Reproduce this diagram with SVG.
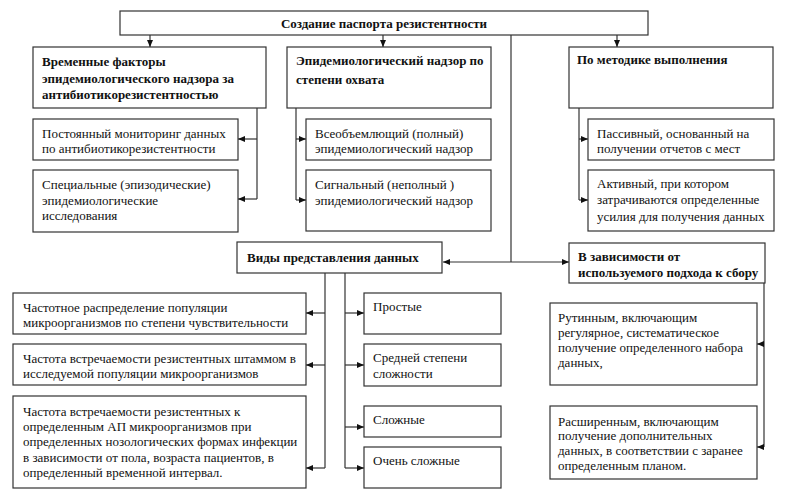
<svg xmlns="http://www.w3.org/2000/svg" width="785" height="495" viewBox="0 0 785 495">
<style>
.box{fill:#fff;stroke:#333;stroke-width:1.2}
.t{font-family:"Liberation Serif","Times New Roman",serif;font-size:13px;fill:#111}
.b{font-weight:bold}
.c{fill:none;stroke:#333;stroke-width:1.2}
</style>
<defs>
<marker id="ah" markerWidth="7" markerHeight="6" refX="7" refY="3" orient="auto" markerUnits="userSpaceOnUse">
<path d="M0,0 L7,3 L0,6 Z" fill="#111"/>
</marker>
</defs>
<rect width="785" height="495" fill="#fff"/>
<g id="connectors">
<line class="c" x1="150" y1="35" x2="150" y2="47" marker-end="url(#ah)"/>
<line class="c" x1="383" y1="35" x2="383" y2="47" marker-end="url(#ah)"/>
<line class="c" x1="617" y1="35" x2="617" y2="47" marker-end="url(#ah)"/>
<line class="c" x1="511" y1="35" x2="511" y2="262"/>
<line class="c" x1="511" y1="262" x2="443" y2="262" marker-end="url(#ah)"/>
<line class="c" x1="511" y1="262" x2="569" y2="262" marker-end="url(#ah)"/>
<line class="c" x1="257" y1="108" x2="257" y2="199"/>
<line class="c" x1="257" y1="139" x2="238" y2="139" marker-end="url(#ah)"/>
<line class="c" x1="257" y1="199" x2="238" y2="199" marker-end="url(#ah)"/>
<line class="c" x1="296" y1="108" x2="296" y2="200"/>
<line class="c" x1="296" y1="139" x2="306" y2="139" marker-end="url(#ah)"/>
<line class="c" x1="296" y1="200" x2="306" y2="200" marker-end="url(#ah)"/>
<line class="c" x1="579" y1="108" x2="579" y2="200"/>
<line class="c" x1="579" y1="139" x2="588" y2="139" marker-end="url(#ah)"/>
<line class="c" x1="579" y1="200" x2="588" y2="200" marker-end="url(#ah)"/>
<line class="c" x1="325" y1="273" x2="325" y2="468"/>
<line class="c" x1="325" y1="313" x2="306" y2="313" marker-end="url(#ah)"/>
<line class="c" x1="325" y1="365" x2="306" y2="365" marker-end="url(#ah)"/>
<line class="c" x1="325" y1="468" x2="306" y2="468" marker-end="url(#ah)"/>
<line class="c" x1="345" y1="273" x2="345" y2="468"/>
<line class="c" x1="345" y1="313" x2="364" y2="313" marker-end="url(#ah)"/>
<line class="c" x1="345" y1="365" x2="364" y2="365" marker-end="url(#ah)"/>
<line class="c" x1="345" y1="427" x2="364" y2="427" marker-end="url(#ah)"/>
<line class="c" x1="345" y1="468" x2="364" y2="468" marker-end="url(#ah)"/>
<line class="c" x1="764" y1="283" x2="764" y2="447"/>
<line class="c" x1="764" y1="344" x2="757" y2="344" marker-end="url(#ah)"/>
<line class="c" x1="764" y1="447" x2="757" y2="447" marker-end="url(#ah)"/>
</g>
<g id="root">
<rect class="box" x="120" y="11" width="528" height="24"/>
<text class="t b" x="384" y="28" text-anchor="middle">Создание паспорта резистентности</text>
</g>
<g id="temporal">
<rect class="box" x="33" y="47" width="233" height="61"/>
<text class="t b" x="42" y="66">Временные факторы</text>
<text class="t b" x="42" y="83">эпидемиологического надзора за</text>
<text class="t b" x="42" y="99">антибиотикорезистентностью</text>
</g>
<g id="coverage">
<rect class="box" x="287" y="47" width="204" height="61"/>
<text class="t b" x="296" y="65">Эпидемиологический надзор по</text>
<text class="t b" x="296" y="84">степени охвата</text>
</g>
<g id="method">
<rect class="box" x="569" y="47" width="204" height="61"/>
<text class="t b" x="577" y="64">По методике выполнения</text>
</g>
<g id="constant">
<rect class="box" x="33" y="119" width="205" height="41"/>
<text class="t" x="42" y="138">Постоянный мониторинг данных</text>
<text class="t" x="42" y="153">по антибиотикорезистентности</text>
</g>
<g id="special">
<rect class="box" x="33" y="170" width="205" height="62"/>
<text class="t" x="42" y="189">Специальные  (эпизодические)</text>
<text class="t" x="42" y="205">эпидемиологические</text>
<text class="t" x="42" y="220">исследования</text>
</g>
<g id="full">
<rect class="box" x="306" y="119" width="185" height="41"/>
<text class="t" x="315" y="138">Всеобъемлющий (полный)</text>
<text class="t" x="315" y="153">эпидемиологический надзор</text>
</g>
<g id="signal">
<rect class="box" x="306" y="170" width="185" height="61"/>
<text class="t" x="315" y="189">Сигнальный (неполный )</text>
<text class="t" x="315" y="205">эпидемиологический надзор</text>
</g>
<g id="passive">
<rect class="box" x="588" y="119" width="186" height="41"/>
<text class="t" x="597" y="138">Пассивный, основанный на</text>
<text class="t" x="597" y="153">получении отчетов с мест</text>
</g>
<g id="active">
<rect class="box" x="588" y="170" width="186" height="61"/>
<text class="t" x="597" y="188">Активный, при котором</text>
<text class="t" x="597" y="204">затрачиваются определенные</text>
<text class="t" x="597" y="221">усилия для получения данных</text>
</g>
<g id="views">
<rect class="box" x="237" y="242" width="205" height="31"/>
<text class="t b" x="247" y="262">Виды представления данных</text>
</g>
<g id="approach">
<rect class="box" x="569" y="243" width="196" height="40"/>
<text class="t b" x="578" y="261">В зависимости от</text>
<text class="t b" x="578" y="277">используемого подхода к сбору</text>
</g>
<g id="freqdist">
<rect class="box" x="13" y="293" width="293" height="41"/>
<text class="t" x="23" y="312">Частотное распределение популяции</text>
<text class="t" x="23" y="327">микроорганизмов по степени чувствительности</text>
</g>
<g id="freqres">
<rect class="box" x="13" y="344" width="293" height="41"/>
<text class="t" x="23" y="363">Частота встречаемости резистентных штаммом в</text>
<text class="t" x="23" y="378">исследуемой  популяции микроорганизмов</text>
</g>
<g id="freqap">
<rect class="box" x="13" y="396" width="293" height="92"/>
<text class="t" x="23" y="416">Частота встречаемости резистентных к</text>
<text class="t" x="23" y="431">определенным АП микроорганизмов при</text>
<text class="t" x="23" y="446">определенных нозологических формах инфекции</text>
<text class="t" x="23" y="462">в зависимости от пола, возраста пациентов, в</text>
<text class="t" x="23" y="477">определенный временной интервал.</text>
</g>
<g id="simple">
<rect class="box" x="364" y="293" width="137" height="41"/>
<text class="t" x="373" y="311">Простые</text>
</g>
<g id="medium">
<rect class="box" x="364" y="344" width="137" height="42"/>
<text class="t" x="373" y="362">Средней степени</text>
<text class="t" x="373" y="378">сложности</text>
</g>
<g id="complex">
<rect class="box" x="364" y="406" width="137" height="31"/>
<text class="t" x="373" y="424">Сложные</text>
</g>
<g id="verycomplex">
<rect class="box" x="364" y="447" width="137" height="41"/>
<text class="t" x="373" y="465">Очень сложные</text>
</g>
<g id="routine">
<rect class="box" x="550" y="303" width="207" height="82"/>
<text class="t" x="558" y="322">Рутинным, включающим</text>
<text class="t" x="558" y="337">регулярное, систематическое</text>
<text class="t" x="558" y="352">получение определенного набора</text>
<text class="t" x="558" y="367">данных,</text>
</g>
<g id="extended">
<rect class="box" x="550" y="406" width="207" height="73"/>
<text class="t" x="558" y="426">Расширенным, включающим</text>
<text class="t" x="558" y="440">получение дополнительных</text>
<text class="t" x="558" y="455">данных, в соответствии с заранее</text>
<text class="t" x="558" y="470">определенным планом.</text>
</g>
</svg>
